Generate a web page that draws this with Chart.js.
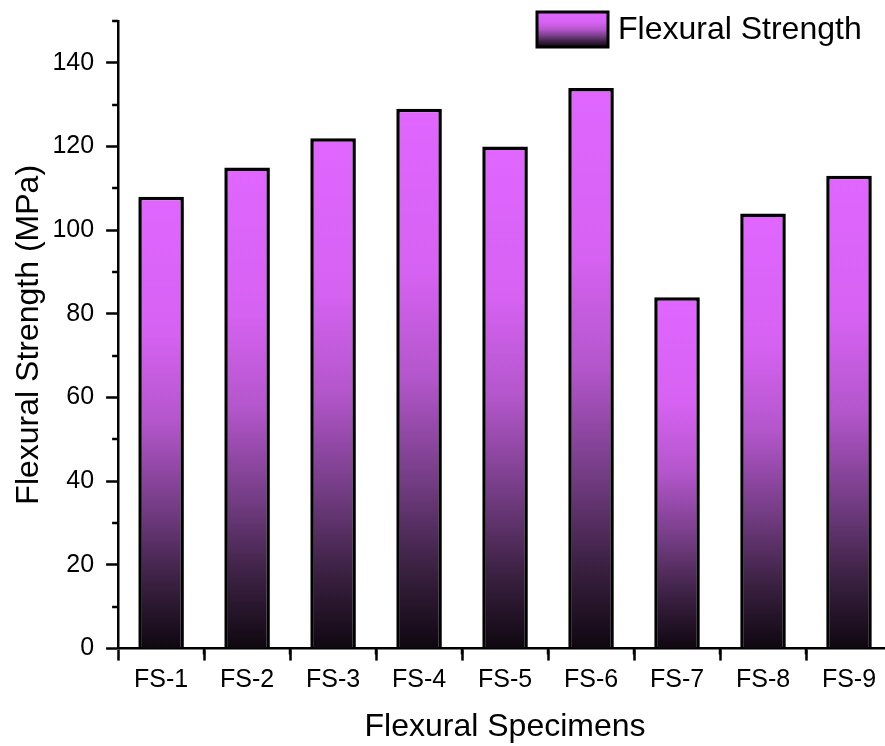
<!DOCTYPE html>
<html>
<head>
<meta charset="utf-8">
<script src="https://cdn.jsdelivr.net/npm/chart.js@4.4.1/dist/chart.umd.min.js"></script>
<style>
  html, body { margin: 0; padding: 0; background: #fff; overflow: hidden; }
  canvas { display: block; }
</style>
</head>
<body>
<canvas id="StrengthChart" width="892" height="746"></canvas>
<script>
var specimens = ['FS-1', 'FS-2', 'FS-3', 'FS-4', 'FS-5', 'FS-6', 'FS-7', 'FS-8', 'FS-9'];
var strength = [108, 115, 122, 129, 120, 134, 84, 104, 113];
var yTicks = [0, 20, 40, 60, 80, 100, 120, 140];

var FONT = 'Arial, "Liberation Sans", sans-serif';

function fillGradient(c, top, bottom) {
    var g = c.createLinearGradient(0, top, 0, bottom);
    g.addColorStop(0, '#E066FF');
    g.addColorStop(0.3, '#D662F2');
    g.addColorStop(0.5, '#B356CB');
    g.addColorStop(0.7, '#703B80');
    g.addColorStop(0.85, '#3B2142');
    g.addColorStop(1, '#0F0710');
    return g;
}

function barColor(context) {
    var chart = context.chart;
    if (!chart.chartArea || context.type !== 'data') return '#E066FF';
    var y = chart.scales.y;
    return fillGradient(chart.ctx, y.getPixelForValue(context.raw), y.getPixelForValue(0));
}

// minor ticks + legend drawn on top
var extras = {
    id: 'extras',
    afterDraw: function (chart) {
        var c = chart.ctx;
        var x = chart.scales.x, y = chart.scales.y;
        var area = chart.chartArea;
        c.save();
        c.strokeStyle = '#000';
        c.lineWidth = 2.5;
        c.beginPath();
        for (var v = 10; v <= y.max; v += 20) {
            var py = Math.round(y.getPixelForValue(v));
            c.moveTo(area.left, py);
            c.lineTo(area.left - 6, py);
        }
        for (var i = 0; i < specimens.length - 1; i++) {
            var px = Math.round((x.getPixelForValue(i) + x.getPixelForValue(i + 1)) / 2);
            c.moveTo(px, area.bottom);
            c.lineTo(px, area.bottom + 6);
        }
        c.stroke();

        // legend
        var bx = 537, by = 12, bw = 71, bh = 35;
        c.fillStyle = fillGradient(c, by, by + bh);
        c.fillRect(bx, by, bw, bh);
        c.lineWidth = 3;
        c.strokeRect(bx, by, bw, bh);
        c.fillStyle = '#000';
        c.font = '32px ' + FONT;
        c.textBaseline = 'middle';
        c.fillText(chart.data.datasets[0].label, 618, by + bh / 2 + 1);
        c.restore();
    }
};

var ctx = document.getElementById('StrengthChart');

var StrengthChart = new Chart(ctx, {
    type: 'bar',
    data: {
        labels: specimens,
        datasets: [{
            label: 'Flexural Strength',
            data: strength,
            backgroundColor: barColor,
            borderColor: '#000',
            borderWidth: 3.5,
            barPercentage: 0.53,
            categoryPercentage: 1
        }]
    },
    options: {
        responsive: false,
        animation: false,
        layout: {
            padding: { top: 21, left: 0, right: 0, bottom: 0 }
        },
        plugins: {
            legend: { display: false },
            tooltip: { enabled: false }
        },
        scales: {
            x: {
                border: { display: true, color: '#000', width: 2.5 },
                grid: {
                    drawOnChartArea: false,
                    drawTicks: true,
                    tickLength: 12,
                    tickWidth: 2.5,
                    tickColor: '#000'
                },
                ticks: {
                    color: '#000',
                    padding: 5,
                    font: { family: FONT, size: 25 }
                },
                title: {
                    display: true,
                    text: 'Flexural Specimens',
                    color: '#000',
                    font: { family: FONT, size: 32 },
                    padding: { top: 7, bottom: 0 }
                }
            },
            y: {
                min: 0,
                max: 150,
                afterBuildTicks: function (axis) {
                    axis.ticks = yTicks.map(function (v) { return { value: v }; });
                },
                border: { display: true, color: '#000', width: 2.5 },
                grid: {
                    drawOnChartArea: false,
                    drawTicks: true,
                    tickLength: 12,
                    tickWidth: 2.5,
                    tickColor: '#000'
                },
                ticks: {
                    color: '#000',
                    padding: 12,
                    font: { family: FONT, size: 25, lineHeight: 0.5 }
                },
                title: {
                    display: true,
                    text: 'Flexural Strength (MPa)',
                    color: '#000',
                    font: { family: FONT, size: 32 },
                    padding: { top: 10, bottom: -8 }
                }
            }
        }
    },
    plugins: [extras]
});
</script>
</body>
</html>
